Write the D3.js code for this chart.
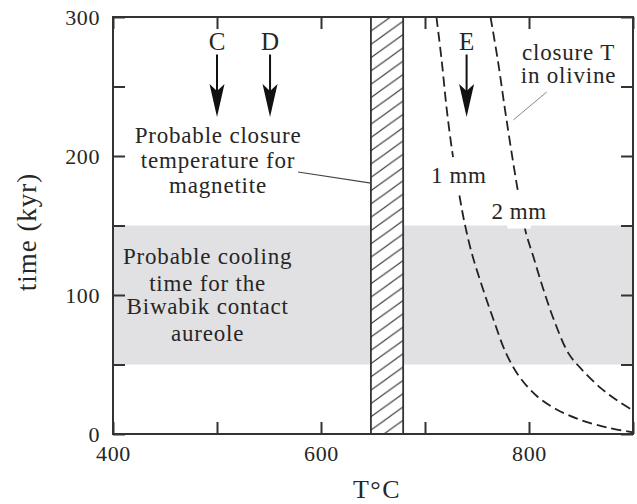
<!DOCTYPE html>
<html>
<head>
<meta charset="utf-8">
<style>
    body { margin: 0; background: #fff; }
    text { font-family: "Liberation Serif", "Times New Roman", serif; fill: #262626; }
    .tick line { stroke: #333; stroke-width: 2; }
    .dash { fill: none; stroke: #222; stroke-width: 1.8; stroke-dasharray: 10, 5; }
</style>
</head>
<body>
<svg id="chart" width="637" height="504"></svg>
<script src="https://cdn.jsdelivr.net/npm/d3@7/dist/d3.min.js"></script>
<script>
// values
const xDomain = [400, 900]
const yDomain = [0, 300]
const xTickValues = [400, 500, 600, 700, 800, 900]
const xTickLabels = [400, 600, 800]
const yTickValues = [0, 50, 100, 150, 200, 250, 300]
const yTickLabels = [0, 100, 200, 300]

const coolingBand = [50, 150]      // kyr
const magnetiteBand = [648, 679]   // degC

const arrowNames = ["C", "D", "E"]
const arrowTemps = [500, 551, 740]
const arrowTimes = [273, 228]      // tail, tip

// closure T in olivine, [T, kyr]
const curve1mm = [[711, 300], [716, 269], [721, 233], [727, 199], [733, 172], [738, 152],
    [745, 130], [755, 106], [766, 82], [778, 58], [791, 41], [808, 27], [827, 17.5],
    [850, 10], [876, 4.5], [900, 1.2]]
const curve2mm = [[763, 300], [770, 269], [777, 233], [784, 199], [790, 172], [797, 145],
    [804, 128], [813, 106], [824, 82], [838, 58], [850, 47], [869, 33], [885, 24], [900, 17]]

const closureText = ["Probable closure", "temperature for", "magnetite"]
const coolingText = ["Probable cooling", "time for the", "Biwabik contact", "aureole"]
const olivineText = ["closure T", "in olivine"]
const curveNames = ["1 mm", "2 mm"]

let svg = d3.select("#chart")
let margin = { left: 113, right: 4, top: 17, bottom: 70 }
let width = 637 - margin.left - margin.right
let height = 504 - margin.top - margin.bottom

let x = d3.scaleLinear().domain(xDomain).range([0, width])
let y = d3.scaleLinear().domain(yDomain).range([height, 0])

let defs = svg.append("defs")
let hw = 18.5, hh = 13.3
defs.append("pattern")
    .attr("id", "hatch")
    .attr("patternUnits", "userSpaceOnUse")
    .attr("width", hw).attr("height", hh)
    .append("path")
    .attr("d", `M${-hw},${2 * hh}L${2 * hw},${-hh}M${-hw},${hh}L${hw},${-hh}M0,${2 * hh}L${2 * hw},0`)
    .attr("stroke", "#333").attr("stroke-width", 1.1)

let body = svg.append("g").attr("transform", `translate(${margin.left},${margin.top})`)

// cooling time band
body.append("rect")
    .attr("x", 0).attr("width", width)
    .attr("y", y(coolingBand[1]))
    .attr("height", y(coolingBand[0]) - y(coolingBand[1]))
    .attr("fill", "#e1e1e3")

// olivine closure curves
let line = d3.line().x(d => x(d[0])).y(d => y(d[1])).curve(d3.curveCatmullRom.alpha(0.5))
body.selectAll(".dash").data([curve1mm, curve2mm])
    .enter().append("path")
    .attr("class", "dash")
    .attr("d", line)

// curve labels with white backing
let curveLabelPos = [[732.5, 180.5], [790.5, 155]]
curveNames.forEach((name, i) => {
    let g = body.append("g")
    let bg = g.append("rect").attr("fill", "#fff")
    let t = g.append("text")
        .attr("x", x(curveLabelPos[i][0]))
        .attr("y", y(curveLabelPos[i][1]))
        .attr("text-anchor", "middle")
        .attr("font-size", 23)
        .attr("letter-spacing", 0.6)
        .text(name)
    let b = t.node().getBBox()
    bg.attr("x", b.x + 16).attr("width", b.width - 32)
        .attr("y", b.y - 6).attr("height", b.height + 11)
})

// magnetite closure bar
body.append("rect")
    .attr("x", x(magnetiteBand[0])).attr("width", x(magnetiteBand[1]) - x(magnetiteBand[0]))
    .attr("y", 0).attr("height", height)
    .attr("fill", "#fff")
body.append("rect")
    .attr("x", x(magnetiteBand[0])).attr("width", x(magnetiteBand[1]) - x(magnetiteBand[0]))
    .attr("y", 0).attr("height", height)
    .attr("fill", "url(#hatch)")
    .attr("stroke", "#333").attr("stroke-width", 1.8)

// leader lines
body.append("line")
    .attr("x1", x(578)).attr("y1", y(188.5))
    .attr("x2", x(magnetiteBand[0])).attr("y2", y(180.5))
    .attr("stroke", "#444").attr("stroke-width", 1.1)
body.append("line")
    .attr("x1", x(817)).attr("y1", y(246))
    .attr("x2", x(785)).attr("y2", y(226))
    .attr("stroke", "#888").attr("stroke-width", 1)

// arrows
arrowTemps.forEach((t, i) => {
    let g = body.append("g").attr("transform", `translate(${x(t)},0)`)
    g.append("text")
        .attr("y", y(arrowTimes[0]) - 5)
        .attr("text-anchor", "middle")
        .attr("font-size", 25)
        .text(arrowNames[i])
    g.append("line")
        .attr("y1", y(arrowTimes[0])).attr("y2", y(arrowTimes[1]) - 20)
        .attr("stroke", "#111").attr("stroke-width", 2)
    let tip = y(arrowTimes[1])
    g.append("path")
        .attr("d", `M0,${tip}L-7.5,${tip - 33}L0,${tip - 26}L7.5,${tip - 33}Z`)
        .attr("fill", "#111")
})

// text blocks
function block(lines, cx, baselines, size) {
    lines.forEach((s, i) => {
        body.append("text")
            .attr("x", x(cx)).attr("y", y(baselines[i]))
            .attr("text-anchor", "middle")
            .attr("font-size", size)
            .attr("letter-spacing", 0.8)
            .text(s)
    })
}
block(closureText, 501, [209, 191.5, 173.5], 23)
block(coolingText, 491, [122.3, 103.1, 86, 67.1], 23)
block(olivineText, 838, [269, 252.5], 23)

// axes, ticks pointing inward
function styleAxis(g) {
    g.select(".domain").remove()
    g.selectAll("text").attr("font-size", 22).attr("fill", "#262626")
        .attr("font-family", '"Liberation Serif", serif').attr("letter-spacing", 0.6)
}
body.append("g").attr("transform", `translate(0,${height})`)
    .call(d3.axisBottom(x).tickValues(xTickValues).tickSize(-12).tickPadding(11)
        .tickFormat(d => xTickLabels.includes(d) ? d : ""))
    .call(styleAxis)
body.append("g")
    .call(d3.axisTop(x).tickValues(xTickValues).tickSize(-12).tickFormat(""))
    .call(styleAxis)
body.append("g")
    .call(d3.axisLeft(y).tickValues(yTickValues).tickSize(-12).tickPadding(13)
        .tickFormat(d => yTickLabels.includes(d) ? d : ""))
    .call(styleAxis)
body.append("g").attr("transform", `translate(${width},0)`)
    .call(d3.axisRight(y).tickValues(yTickValues).tickSize(-12).tickFormat(""))
    .call(styleAxis)

// frame
body.append("rect")
    .attr("width", width).attr("height", height)
    .attr("fill", "none").attr("stroke", "#333").attr("stroke-width", 2)

// axis titles
svg.append("text")
    .attr("x", 377).attr("y", 498)
    .attr("text-anchor", "middle")
    .attr("font-size", 26)
    .attr("letter-spacing", 1.5)
    .text("T°C")
svg.append("text")
    .attr("transform", "translate(36,232) rotate(-90)")
    .attr("text-anchor", "middle")
    .attr("font-size", 27)
    .attr("letter-spacing", 1)
    .text("time (kyr)")
</script>
</body>
</html>
